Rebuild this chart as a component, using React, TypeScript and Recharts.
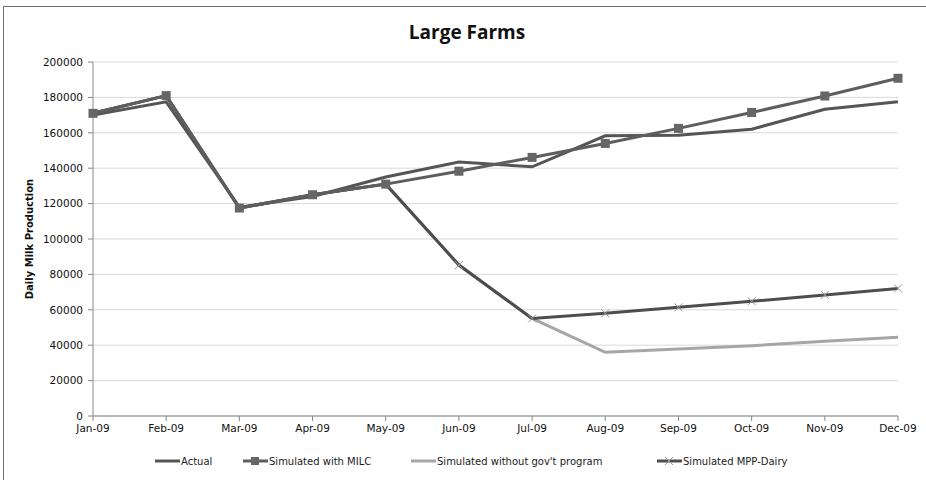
import React from "react";
import {
  LineChart,
  Line,
  CartesianGrid,
  XAxis,
  YAxis,
} from "recharts";

const months = [
  "Jan-09", "Feb-09", "Mar-09", "Apr-09", "May-09", "Jun-09",
  "Jul-09", "Aug-09", "Sep-09", "Oct-09", "Nov-09", "Dec-09",
];
const actual = [170000, 177500, 118000, 124000, 135000, 143500, 140800, 158300, 158600, 162000, 173300, 177600];
const milc = [171000, 181000, 117500, 125000, 131000, 138300, 146100, 154000, 162500, 171500, 180800, 190800];
const withoutGov = [171000, 181000, 117500, 125000, 131000, 85300, 55100, 36000, 37900, 39700, 42200, 44500];
const mppDairy = [171000, 181000, 117500, 125000, 131000, 85300, 55100, 58000, 61400, 64800, 68400, 72100];
const yTicks = [0, 20000, 40000, 60000, 80000, 100000, 120000, 140000, 160000, 180000, 200000];

const data = months.map((m, i) => ({
  month: m,
  actual: actual[i],
  milc: milc[i],
  withoutGov: withoutGov[i],
  mpp: mppDairy[i],
}));

const FONT = "'DejaVu Sans', Verdana, sans-serif";

const SquareDot = (props: any) => {
  const { cx, cy } = props;
  if (cx == null || cy == null) return null;
  return <rect x={cx - 4.5} y={cy - 4.5} width={9} height={9} fill="#666666" />;
};

const CrossDot = (props: any) => {
  const { cx, cy } = props;
  if (cx == null || cy == null) return null;
  const s = 4;
  return (
    <path
      d={`M${cx - s},${cy - s}L${cx + s},${cy + s}M${cx - s},${cy + s}L${cx + s},${cy - s}`}
      stroke="#9a9a9a"
      strokeWidth={1}
      fill="none"
    />
  );
};

// legend entries, left edge of each swatch
const legendItems = [
  { name: "Actual", color: "#555555", marker: "none", x: 155 },
  { name: "Simulated with MILC", color: "#5e5e5e", marker: "square", x: 243 },
  { name: "Simulated without gov't program", color: "#a6a6a6", marker: "none", x: 411 },
  { name: "Simulated MPP-Dairy", color: "#4d4d4d", marker: "cross", x: 657 },
];

export default function App() {
  return (
    <div style={{ position: "absolute", left: 0, top: 0, width: 926, height: 480, background: "#fff" }}>
      <div
        style={{
          position: "absolute",
          left: 3,
          top: 6,
          width: 923,
          height: 474,
          borderTop: "1px solid #707070",
          borderLeft: "1px solid #707070",
          boxSizing: "border-box",
        }}
      />
      <div
        style={{
          position: "absolute",
          left: 0,
          top: 19,
          width: 926,
          textAlign: "center",
          fontFamily: "'Open Sans', sans-serif",
          fontWeight: 700,
          fontSize: 19,
          color: "#111",
          paddingLeft: 8,
          boxSizing: "border-box",
        }}
      >
        Large Farms
      </div>
      <div style={{ position: "absolute", left: 0, top: 0 }}>
        <LineChart
          width={926}
          height={480}
          data={data}
          margin={{ top: 62, right: 28, bottom: 34, left: 0 }}
        >
          <CartesianGrid vertical={false} stroke="#d9d9d9" />
          <XAxis
            dataKey="month"
            height={30}
            stroke="#888"
            tickLine={{ stroke: "#888" }}
            tickSize={5}
            tick={{ fontFamily: FONT, fontSize: 10.5, fill: "#111" }}
            interval={0}
            tickMargin={4}
          />
          <YAxis
            width={93}
            domain={[0, 200000]}
            ticks={yTicks}
            stroke="#888"
            tickSize={5}
            tickMargin={5}
            tick={{ fontFamily: FONT, fontSize: 10.5, fill: "#111" }}
            label={{
              value: "Daily Milk Production",
              angle: -90,
              position: "insideLeft",
              dx: 24,
              style: {
                fontFamily: FONT,
                fontWeight: 700,
                fontSize: 10,
                fill: "#111",
                textAnchor: "middle",
              },
            }}
          />
          <Line
            dataKey="withoutGov"
            stroke="#a6a6a6"
            strokeWidth={3}
            dot={false}
            isAnimationActive={false}
          />
          <Line
            dataKey="mpp"
            stroke="#4d4d4d"
            strokeWidth={3}
            dot={<CrossDot />}
            isAnimationActive={false}
          />
          <Line
            dataKey="actual"
            stroke="#555555"
            strokeWidth={3}
            dot={false}
            isAnimationActive={false}
          />
          <Line
            dataKey="milc"
            stroke="#5e5e5e"
            strokeWidth={3}
            dot={<SquareDot />}
            isAnimationActive={false}
          />
        </LineChart>
      </div>
      {legendItems.map((it) => (
        <div
          key={it.name}
          style={{
            position: "absolute",
            left: it.x,
            top: 455,
            display: "flex",
            alignItems: "center",
            fontFamily: FONT,
            fontSize: 10,
            color: "#222",
            whiteSpace: "nowrap",
          }}
        >
          <svg width={25} height={12} style={{ marginRight: 1 }}>
            <line x1={0} y1={6} x2={25} y2={6} stroke={it.color} strokeWidth={3} />
            {it.marker === "square" && <rect x={8} y={2} width={8} height={8} fill="#666" />}
            {it.marker === "cross" && (
              <path d="M8,2L16,10M8,10L16,2" stroke="#9a9a9a" strokeWidth={1} />
            )}
          </svg>
          <span>{it.name}</span>
        </div>
      ))}
    </div>
  );
}
